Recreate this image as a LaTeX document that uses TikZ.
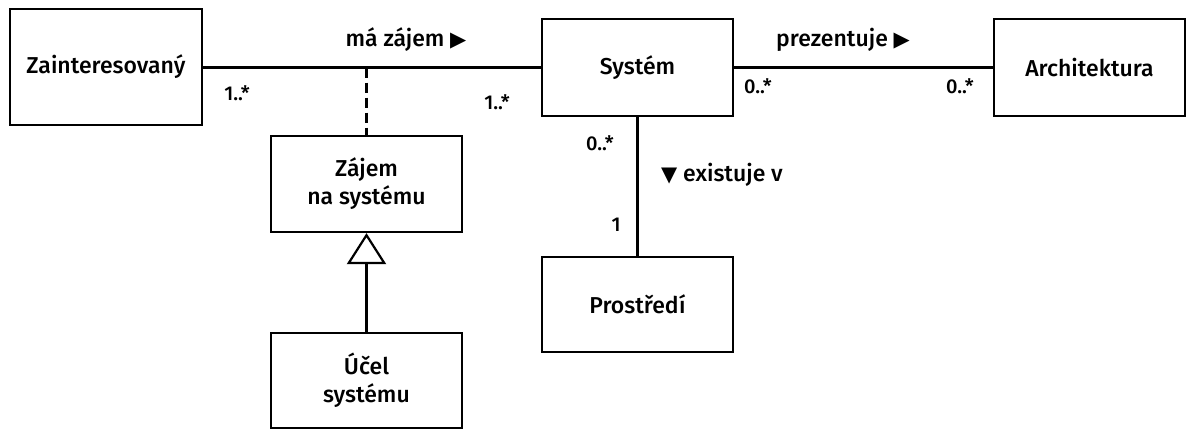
\documentclass[tikz,border=0pt]{standalone}
\usepackage{fontspec}
\setmainfont{Fira Sans}[UprightFont={* Medium}]
\newfontfamily\symfont{DejaVu Sans}
\usetikzlibrary{arrows.meta}
\tikzset{
  umlbox/.style={draw, line width=2.2pt, minimum width=191pt, minimum height=97pt, align=center, font=\fontsize{23}{28}\selectfont, inner sep=0pt},
  assoc/.style={line width=2.2pt},
  lbl/.style={font=\fontsize{23}{26}\selectfont, inner sep=0pt},
  mult/.style={font=\fontsize{20}{24}\selectfont, inner sep=0pt},
}
\newcommand{\tri}[1]{{\symfont\fontsize{21}{21}\selectfont #1}}
\begin{document}
\begin{tikzpicture}[x=1pt,y=-1pt]
\useasboundingbox (0,0) rectangle (1187,429);
\node[umlbox, minimum width=192pt, minimum height=116pt] (Z) at (106,67) {Zainteresovaný};
\node[umlbox] (S) at (637.5,67.5) {Systém};
\node[umlbox] (A) at (1089.5,67.5) {Architektura};
\node[umlbox, minimum height=96pt] (Zaj) at (366.5,184) {Zájem\\na systému};
\node[umlbox, minimum height=95pt] (U) at (366.5,380.5) {Účel\\systému};
\node[umlbox, minimum height=95pt] (P) at (637.5,304.5) {Prostředí};

\draw[assoc] (Z.east |- S.west) -- (S.west);
\draw[assoc] (S.east) -- (A.west);
\draw[assoc] (S.south) -- (P.north);
\coordinate (ac) at (Zaj.north |- S.west);
\draw[line width=2.2pt, dash pattern=on 10pt off 5pt] (ac) -- (Zaj.north);
\draw[line width=2.2pt, -{Triangle[open, length=31pt, width=39pt, line width=2.2pt]}] (U.north) -- (Zaj.south);

\node[lbl] (l1) at (406,40) {má zájem \tri{▶}};
\node[lbl] (l2) at (843,40) {prezentuje \tri{▶}};
\node[lbl] (l3) at (722,175) {\tri{▼} existuje v};

\node[mult] (m1) at (237,93) {1..*};
\node[mult] (m2) at (497,102) {1..*};
\node[mult] (m3) at (758,86) {0..*};
\node[mult] (m4) at (960,86) {0..*};
\node[mult] (m5) at (600,143) {0..*};
\node[mult] (m6) at (616,225) {1};
\end{tikzpicture}
\end{document}
